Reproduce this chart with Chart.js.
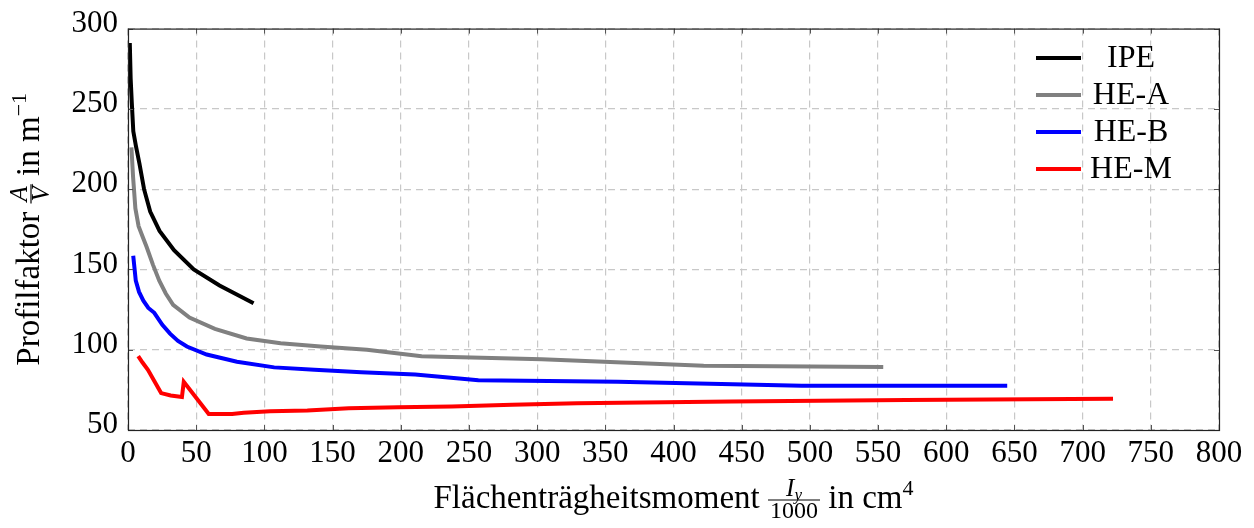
<!DOCTYPE html>
<html>
<head>
<meta charset="UTF-8">
<title>Profilfaktor</title>
<script src="https://cdn.jsdelivr.net/npm/chart.js"></script>
<style>
	body { margin: 0; padding: 0; background: #fff; }
	canvas { display: block; }
</style>
</head>
<body>
<canvas id="chart" width="1254" height="528"></canvas>
<script>
// Werte (x = Iy/1000 in cm^4, y = A/V in 1/m)
var xTicks = [0, 50, 100, 150, 200, 250, 300, 350, 400, 450, 500, 550, 600, 650, 700, 750, 800];
var yTicks = [50, 100, 150, 200, 250, 300];

var ipeX = [1.32, 1.94, 2.77, 3.89, 5.79, 8.36, 11.77, 16.27, 23.13, 33.74, 48.2, 67.12, 92.08];
var ipeY = [291, 269, 254, 236, 227, 216, 200, 186, 174, 162, 150, 140, 129];

var heaX = [2.51, 3.69, 5.41, 7.76, 10.45, 13.67, 18.26, 22.93, 27.69, 33.09, 45.07, 63.72, 86.97, 111.9, 141.2, 175.2, 215.3, 303.4, 422.1, 553.8];
var heaY = [226, 208, 188, 177, 171, 164, 153, 143, 135, 128, 120, 113, 107, 104, 102, 100, 96, 94, 90, 89.2];

var hebX = [3.83, 5.70, 8.09, 11.26, 14.92, 19.27, 25.17, 30.82, 36.66, 43.19, 57.68, 79.89, 107.2, 136.7, 171.0, 210.6, 256.9, 359.1, 494.1, 644.7];
var hebY = [158.5, 143, 136, 130.5, 126, 123, 115.5, 110, 105.5, 102, 97, 92.5, 89, 87.5, 86, 84.5, 81, 80, 77.6, 77.6];

var hemX = [7.48, 10.64, 14.6, 24.29, 31.31, 39.55, 40.9, 59.2, 68.13, 76.37, 84.87, 104.1, 131.5, 161.9, 198.0, 237.4, 281.7, 329.3, 442.6, 570.4, 722.3];
var hemY = [96, 92, 87.5, 73, 71.5, 70.5, 80, 60, 60, 60, 60.8, 61.7, 62.2, 63.5, 64.2, 64.7, 65.8, 66.6, 67.8, 68.7, 69.4];

var labels = ['IPE', 'HE-A', 'HE-B', 'HE-M'];
var colors = ['#000000', '#808080', '#0000ff', '#ff0000'];

var SERIF = "'Liberation Serif', 'DejaVu Serif', serif";

function toPoints(xs, ys) {
	return xs.map(function (x, i) { return { x: x, y: ys[i] }; });
}

// Formeltext mit Bruch zeichnen (zentriert um cx, Grundlinie base)
function measure(ctx, pieces) {
	var w = 0;
	pieces.forEach(function (p) { ctx.font = p.f; w += ctx.measureText(p.t).width; });
	return w;
}
function drawPieces(ctx, pieces, x, y) {
	pieces.forEach(function (p) {
		ctx.font = p.f;
		ctx.fillText(p.t, x, y + (p.dy || 0));
		x += ctx.measureText(p.t).width;
	});
}
function drawMath(ctx, spec, cx, base) {
	var wPre = measure(ctx, spec.pre);
	var wNum = measure(ctx, spec.num);
	var wDen = measure(ctx, spec.den);
	var wPost = measure(ctx, spec.post);
	var wFrac = Math.max(wNum, wDen) + 4;
	var x = cx - (wPre + wFrac + wPost) / 2;
	ctx.textAlign = 'left';
	ctx.textBaseline = 'alphabetic';
	ctx.fillStyle = '#000';
	drawPieces(ctx, spec.pre, x, base);
	x += wPre;
	var barY = base - 8;
	drawPieces(ctx, spec.num, x + (wFrac - wNum) / 2, barY - 4);
	drawPieces(ctx, spec.den, x + (wFrac - wDen) / 2, barY + 18);
	ctx.beginPath();
	ctx.lineWidth = 1.2;
	ctx.strokeStyle = '#000';
	ctx.moveTo(x, barY);
	ctx.lineTo(x + wFrac, barY);
	ctx.stroke();
	x += wFrac;
	drawPieces(ctx, spec.post, x, base);
}

var framePlugin = {
	id: 'frame',
	afterDraw: function (chart) {
		var ctx = chart.ctx;
		var a = chart.chartArea;
		var xs = chart.scales.x, ys = chart.scales.y;
		ctx.save();
		// Tick-Striche innen
		ctx.strokeStyle = '#555';
		ctx.lineWidth = 1;
		ctx.beginPath();
		xTicks.forEach(function (v) {
			var px = Math.round(xs.getPixelForValue(v)) + 0.5;
			ctx.moveTo(px, a.bottom); ctx.lineTo(px, a.bottom - 5);
			ctx.moveTo(px, a.top); ctx.lineTo(px, a.top + 5);
		});
		yTicks.forEach(function (v) {
			var py = Math.round(ys.getPixelForValue(v)) + 0.5;
			ctx.moveTo(a.left, py); ctx.lineTo(a.left + 5, py);
			ctx.moveTo(a.right, py); ctx.lineTo(a.right - 5, py);
		});
		ctx.stroke();
		// Rahmen
		ctx.strokeStyle = '#222';
		ctx.lineWidth = 1.2;
		ctx.strokeRect(a.left + 0.5, a.top + 0.5, a.right - a.left, a.bottom - a.top);

		// Legende
		var rowY = 58, step = 37;
		chart.data.datasets.forEach(function (ds, i) {
			var y = rowY + i * step;
			ctx.beginPath();
			ctx.strokeStyle = ds.borderColor;
			ctx.lineWidth = 4;
			ctx.moveTo(1036, y);
			ctx.lineTo(1081, y);
			ctx.stroke();
			ctx.fillStyle = '#000';
			ctx.font = '32px ' + SERIF;
			ctx.textAlign = 'center';
			ctx.textBaseline = 'middle';
			ctx.fillText(ds.label, 1131, y + 1);
		});

		// Achsentitel
		var big = '33px ' + SERIF, small = '24px ' + SERIF, sup = '22px ' + SERIF;
		var it = 'italic 25px ' + SERIF, itSub = 'italic 17px ' + SERIF;
		drawMath(ctx, {
			pre: [{ t: 'Flächenträgheitsmoment ', f: big }],
			num: [{ t: 'I', f: it }, { t: 'y', f: itSub, dy: 4 }],
			den: [{ t: '1000', f: small }],
			post: [{ t: ' in cm', f: big }, { t: '4', f: sup, dy: -13 }]
		}, (a.left + a.right) / 2, 508);

		ctx.translate(39, (a.top + a.bottom) / 2);
		ctx.rotate(-Math.PI / 2);
		drawMath(ctx, {
			pre: [{ t: 'Profilfaktor ', f: big }],
			num: [{ t: 'A', f: it }],
			den: [{ t: 'V', f: it }],
			post: [{ t: ' in m', f: big }, { t: '−1', f: sup, dy: -13 }]
		}, 0, 0);
		ctx.restore();
	}
};

var datasets = [
	{ label: labels[0], data: toPoints(ipeX, ipeY), borderColor: colors[0] },
	{ label: labels[1], data: toPoints(heaX, heaY), borderColor: colors[1] },
	{ label: labels[2], data: toPoints(hebX, hebY), borderColor: colors[2] },
	{ label: labels[3], data: toPoints(hemX, hemY), borderColor: colors[3] }
].map(function (d) {
	d.borderWidth = 4;
	d.pointRadius = 0;
	d.tension = 0;
	d.fill = false;
	d.borderJoinStyle = 'miter';
	return d;
});

new Chart(document.getElementById('chart').getContext('2d'), {
	type: 'line',
	data: { datasets: datasets },
	options: {
		responsive: false,
		animation: false,
		devicePixelRatio: 1,
		layout: { padding: { top: 21, right: 35, left: 0, bottom: 0 } },
		plugins: { legend: { display: false }, tooltip: { enabled: false } },
		scales: {
			x: {
				type: 'linear',
				min: 0,
				max: 800,
				afterFit: function (s) { s.height = 98; },
				afterBuildTicks: function (s) { s.ticks = xTicks.map(function (v) { return { value: v }; }); },
				ticks: { padding: 5, color: '#000', font: { family: SERIF, size: 31 }, maxRotation: 0, autoSkip: false },
				grid: { color: '#c8c8c8', lineWidth: 1.2, drawTicks: false },
				border: { display: false, dash: [7, 5] }
			},
			y: {
				type: 'linear',
				min: 50,
				max: 300,
				afterFit: function (s) { s.width = 128; },
				afterBuildTicks: function (s) { s.ticks = yTicks.map(function (v) { return { value: v }; }); },
				ticks: { padding: 10, labelOffset: -5, color: '#000', font: { family: SERIF, size: 31 } },
				grid: { color: '#c8c8c8', lineWidth: 1.2, drawTicks: false },
				border: { display: false, dash: [7, 5] }
			}
		}
	},
	plugins: [framePlugin]
});
</script>
</body>
</html>
